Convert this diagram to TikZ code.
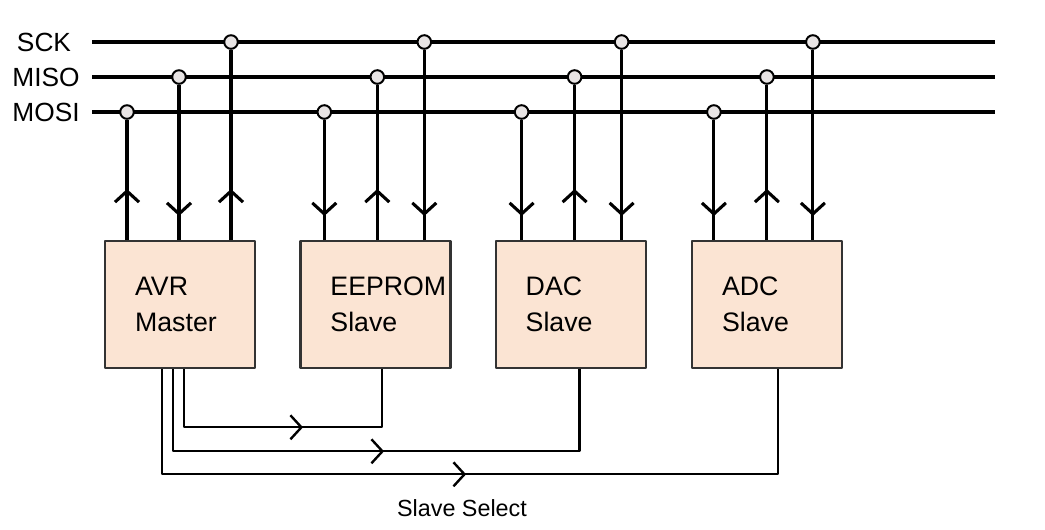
\documentclass[tikz,border=0pt]{standalone}
\usepackage{fontspec}
\setmainfont{Liberation Sans}
\usetikzlibrary{positioning,calc,arrows.meta,decorations.markings}

\definecolor{chipfill}{RGB}{251,228,211}
\definecolor{tapfill}{RGB}{232,228,228}

\tikzset{
    barb/.tip={Straight Barb[length=0.275cm,width=0.6cm]},
    chip/.style={draw=black!80, line width=1.6pt, fill=chipfill,
        minimum width=3.75cm, minimum height=3.175cm,
        inner xsep=0.75cm, text width=2.25cm, align=left,
        font=\fontsize{19}{25.6}\selectfont},
    bus/.style={line width=2.4pt},
    wire/.style={line width=2.2pt},
    tap/.style={circle, draw, line width=1.4pt, fill=tapfill,
        inner sep=0pt, minimum size=0.34cm},
    sel/.style={line width=1.7pt},
    % arrow half way up the wire
    up/.style={postaction={decorate}, decoration={markings,
        mark=at position 1.275cm with {\arrow{barb}}}},
    down/.style={postaction={decorate}, decoration={markings,
        mark=at position 0.6cm with {\arrowreversed{barb}}}},
}

\begin{document}
\begin{tikzpicture}[x=0.025cm, y=-0.025cm, line join=round]
    \useasboundingbox (0,0) rectangle (1045,529);

    % bus lines
    \node[font=\fontsize{18.7}{22}\selectfont] (sck label) at (44,42) {SCK};
    \node[font=\fontsize{18.7}{22}\selectfont] (miso label) at (46,77) {MISO};
    \node[font=\fontsize{18.7}{22}\selectfont] (mosi label) at (46,112) {MOSI};
    \coordinate (sck) at (92,42);   \coordinate (sck end) at (995,42);
    \coordinate (miso) at (92,77);  \coordinate (miso end) at (995,77);
    \coordinate (mosi) at (92,112); \coordinate (mosi end) at (995,112);
    \draw[bus, line width=3.2pt] (sck) -- (sck end);
    \draw[bus] (miso) -- (miso end);
    \draw[bus] (mosi) -- (mosi end);

    % master and slaves
    \node[chip, anchor=north west] (avr) at (104,240) {AVR\\Master};
    \node[chip, right=1.075cm of avr] (eeprom) {EEPROM\\Slave};
    \node[chip, right=1.075cm of eeprom] (dac) {DAC\\Slave};
    \node[chip, right=1.1cm of dac] (adc) {ADC\\Slave};

    % pins to the bus
    \foreach \b/\sig/\off/\dir in {
        avr/mosi/23/up, avr/miso/75/down, avr/sck/127/up,
        eeprom/mosi/25/down, eeprom/miso/78/up, eeprom/sck/125/down,
        dac/mosi/27/down, dac/miso/80/up, dac/sck/127/down,
        adc/mosi/23/down, adc/miso/76/up, adc/sck/122/down} {
        \coordinate (\b-\sig-pin) at ($(\b.north west)+(\off,0)$);
        \node[tap] (\b-\sig) at (\b-\sig-pin |- \sig) {};
        \draw[wire, \dir] (\b-\sig-pin) -- (\b-\sig);
    }

    % slave select lines
    \foreach \s/\xa/\xb/\ly/\pos in {
        eeprom/80/83/58/4.425cm, dac/69/85/82/7.325cm, adc/58/87/105/10.225cm} {
        \coordinate (\s-ss) at ($(avr.south west)+(\xa,0)$);
        \coordinate (\s-ss-end) at ($(\s.south west)+(\xb,0)$);
        \draw[sel, postaction={decorate}, decoration={markings,
            mark=at position \pos with {\arrow{barb}}}]
            (\s-ss) |- ($(\s-ss-end)+(0,\ly)$) -- (\s-ss-end);
    }
    \node[font=\fontsize{16.6}{20}\selectfont] (ss label) at (462,508) {Slave Select};
\end{tikzpicture}
\end{document}
